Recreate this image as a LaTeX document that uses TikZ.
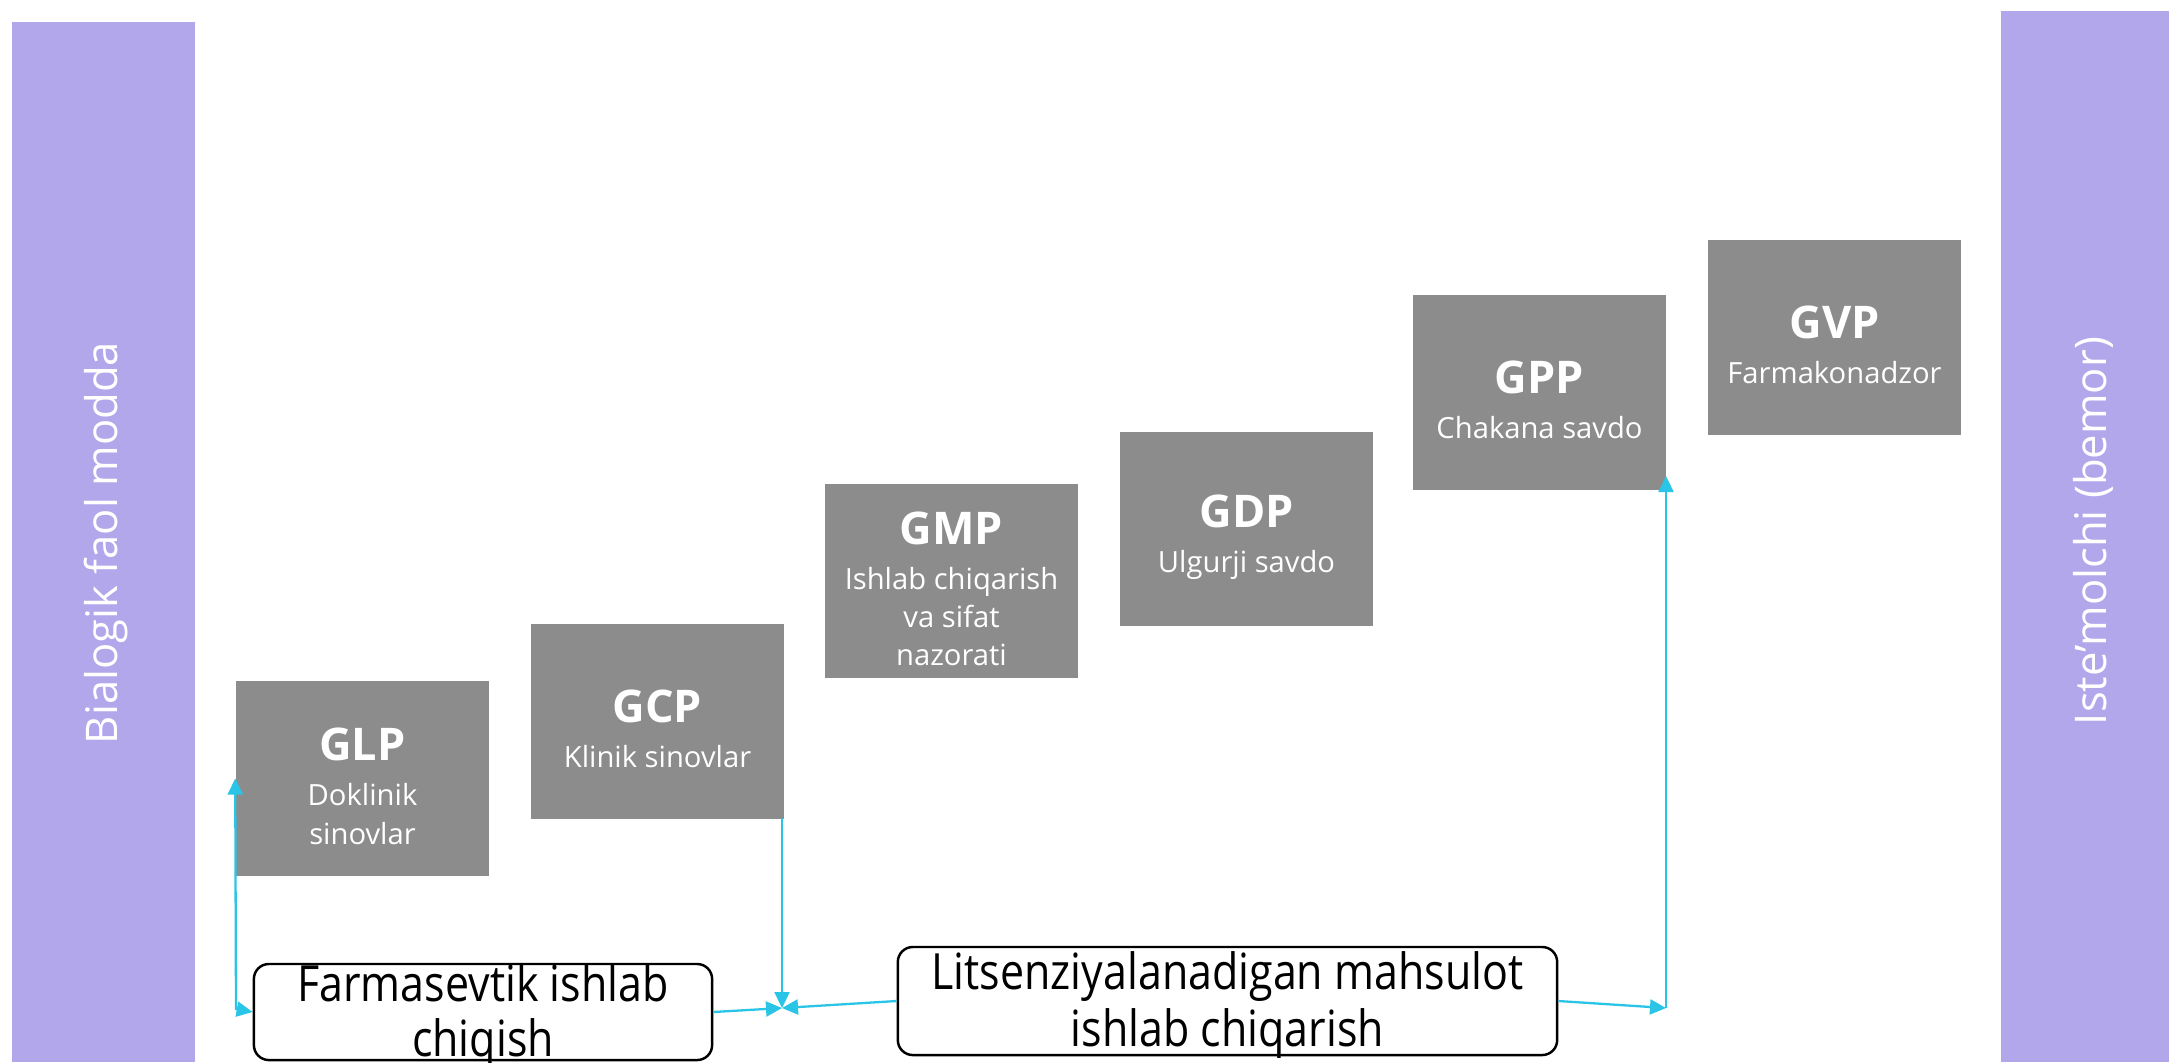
\documentclass[tikz,border=0pt]{standalone}
\usepackage{fontspec}
\setmainfont{Open Sans}
\newfontfamily\condf[FakeStretch=0.86]{Open Sans}
\usetikzlibrary{arrows.meta}
\definecolor{lav}{HTML}{B3A7EC}
\definecolor{boxgray}{HTML}{8C8C8C}
\definecolor{conncyan}{HTML}{29C4E6}
\newcommand\gtitle[1]{{\fontsize{12.8}{12.8}\selectfont\bfseries\rule{0pt}{13.7pt}#1}}
\begin{document}
\begin{tikzpicture}[x=0.01cm,y=-0.01cm,
  gbox/.style={fill=boxgray, minimum width=2.53cm, minimum height=1.94cm, inner sep=0pt,
    align=center, text=white, font=\fontsize{8.3}{12.8}\selectfont},
  bar/.style={fill=lav, inner sep=0pt},
  barlabel/.style={rotate=90, text=white, inner sep=0pt, font=\fontsize{12.4}{15}\selectfont},
  prodbox/.style={draw=black, line width=0.7pt, rounded corners=0.15cm, fill=white, inner sep=0pt},
  prodtext/.style={inner sep=0pt, align=center},
  conn/.style={draw=conncyan, line width=0.65pt},
  tipend/.style={-{Triangle[length=0.16cm,width=0.15cm]}},
  tipboth/.style={{Triangle[length=0.16cm,width=0.15cm]}-{Triangle[length=0.16cm,width=0.15cm]}}]
\useasboundingbox (0,0) rectangle (2169,1062);
% side bars
\node[bar, minimum width=1.83cm, minimum height=10.40cm] (lbar) at (103.5,542) {};
\node[barlabel] (llab) at (106,543) {Bialogik faol modda};
\node[bar, minimum width=1.68cm, minimum height=10.51cm] (rbar) at (2085,536.5) {};
\node[barlabel] (rlab) at (2093,531) {Iste’molchi (bemor)};
% grey boxes
\node[gbox] (glp) at (362.5,778.5) {\gtitle{GLP}\\Doklinik\\[-1.6pt]sinovlar};
\node[gbox] (gcp) at (657.5,721.5) {\gtitle{GCP}\\Klinik sinovlar};
\node[gbox] (gmp) at (951.5,581) {\gtitle{GMP}\\Ishlab chiqarish\\[-2pt]va sifat\\[-2pt]nazorati};
\node[gbox] (gdp) at (1246.5,529) {\gtitle{GDP}\\Ulgurji savdo};
\node[gbox] (gpp) at (1539.5,392.5) {\gtitle{GPP}\\Chakana savdo};
\node[gbox] (gvp) at (1834.5,337.5) {\gtitle{GVP}\\Farmakonadzor};
% bottom boxes
\node[prodbox, minimum width=4.58cm, minimum height=0.96cm] (farm) at (483,1012) {};
\node[prodtext, font=\condf\fontsize{14.2}{15.4}\selectfont] (farmtext) at (483,1016)
  {Farmasevtik ishlab\\chiqish};
\node[prodbox, minimum width=6.59cm, minimum height=1.08cm] (lic) at (1227.5,1001) {};
\node[prodtext, font=\condf\fontsize{14.2}{16.4}\selectfont] (lictext) at (1227.5,1005)
  {Litsenziyalanadigan mahsulot\\ishlab chiqarish};
% connectors
\coordinate (c1) at (236,1009);
\coordinate (j1) at (782,1008);
\coordinate (j2) at (1666,1008);
\coordinate (gppin) at (1666,476);
\coordinate (gcpout) at (782,818);
\draw[conn, tipboth] (farm.west) -- (c1) -- (glp.west);
\draw[conn, tipend] (gcpout) -- (j1);
\draw[conn, tipend] (farm.east) -- (j1);
\draw[conn, tipend] (lic.west) -- (j1);
\draw[conn, tipend] (lic.east) -- (j2);
\draw[conn, tipend] (j2) -- (gppin);
\end{tikzpicture}
\end{document}
